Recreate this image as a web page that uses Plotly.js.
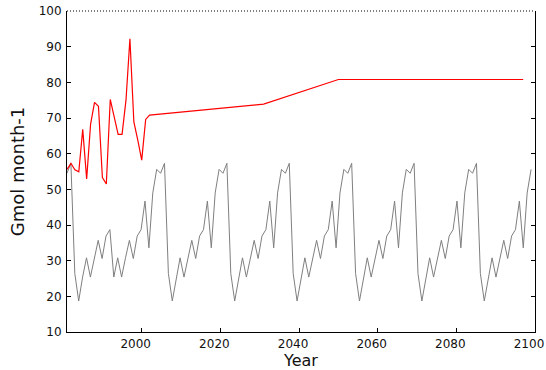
<!DOCTYPE html>
<html>
<head>
<meta charset="utf-8">
<script src="https://cdn.plot.ly/plotly-3.0.1.min.js"></script>
<style>
  html, body { margin: 0; padding: 0; background: #fff; }
  #chart { width: 546px; height: 370px; }
</style>
</head>
<body>
<div id="chart"></div>
<script>
// Red series: observed-period values, then a few sparse projection points
const redYears = [1981, 1982, 1983, 1984, 1985, 1986, 1987, 1988, 1989, 1990, 1991,
                  1992, 1993, 1994, 1995, 1996, 1997, 1998, 1999, 2000, 2001, 2002,
                  2031, 2050, 2097];
const redValues = [55.6, 57.3, 55.5, 54.9, 66.8, 52.9, 68.3, 74.4, 73.3, 53.3, 51.5,
                   75.2, 70.3, 65.4, 65.4, 75.0, 92.2, 68.9, 63.8, 58.2, 69.6, 70.8,
                   73.9, 80.8, 80.8];

// Gray series: evenly spaced samples between grayStart and grayEnd
const grayStart = 1981;
const grayEnd = 2099;
const grayValues = [
  54.5, 57.3, 26.4, 18.7, 25.4, 30.8, 25.4, 30.8, 35.7, 30.6, 36.9, 38.7,
  25.4, 30.8, 25.4, 30.8, 35.7, 30.6, 36.9, 38.7, 46.7, 33.6, 49.0, 55.6, 54.5, 57.3,
  26.4, 18.7, 25.4, 30.8, 25.4, 30.8, 35.7, 30.6, 36.9, 38.7, 46.7, 33.6, 49.0, 55.6, 54.5, 57.3,
  26.4, 18.7, 25.4, 30.8, 25.4, 30.8, 35.7, 30.6, 36.9, 38.7, 46.7, 33.6, 49.0, 55.6, 54.5, 57.3,
  26.4, 18.7, 25.4, 30.8, 25.4, 30.8, 35.7, 30.6, 36.9, 38.7, 46.7, 33.6, 49.0, 55.6, 54.5, 57.3,
  26.4, 18.7, 25.4, 30.8, 25.4, 30.8, 35.7, 30.6, 36.9, 38.7, 46.7, 33.6, 49.0, 55.6, 54.5, 57.3,
  26.4, 18.7, 25.4, 30.8, 25.4, 30.8, 35.7, 30.6, 36.9, 38.7, 46.7, 33.6, 49.0, 55.6, 54.5, 57.3,
  26.4, 18.7, 25.4, 30.8, 25.4, 30.8, 35.7, 30.6, 36.9, 38.7, 46.7, 33.6, 49.0, 55.6
];
const grayTimes = grayValues.map((_, i) =>
  grayStart + i * (grayEnd - grayStart) / (grayValues.length - 1));

const xTicks = [2000, 2020, 2040, 2060, 2080, 2100];
const yTicks = [10, 20, 30, 40, 50, 60, 70, 80, 90, 100];

const FONT = 'DejaVu Sans, sans-serif';

const traces = [
  {
    x: grayTimes, y: grayValues, type: 'scatter', mode: 'lines',
    line: { color: '#7f7f7f', width: 1 }, hoverinfo: 'skip'
  },
  {
    x: redYears, y: redValues, type: 'scatter', mode: 'lines',
    line: { color: '#ff0000', width: 1.2 }, hoverinfo: 'skip'
  }
];

const layout = {
  width: 546, height: 370,
  margin: { l: 67, r: 11, t: 11, b: 38 },
  paper_bgcolor: '#fff', plot_bgcolor: '#fff',
  showlegend: false,
  font: { family: FONT, color: '#111' },
  xaxis: {
    range: [1981, 2100], tickvals: xTicks, ticktext: xTicks.map(String),
    ticks: 'inside', ticklen: 4, tickcolor: '#000', tickwidth: 1,
    showline: true, linecolor: '#000', linewidth: 1, mirror: false,
    showgrid: false, zeroline: false,
    tickfont: { family: FONT, size: 12, color: '#111' },
    ticklabelshift: -6, ticklabelstandoff: 1,
    title: { text: 'Year', font: { family: FONT, size: 16, color: '#111' }, standoff: 3 }
  },
  yaxis: {
    range: [10, 100], tickvals: yTicks,
    ticks: 'inside', ticklen: 4, tickcolor: '#000', tickwidth: 1,
    showline: true, linecolor: '#000', linewidth: 1, mirror: 'ticks',
    showgrid: false, zeroline: false,
    tickfont: { family: FONT, size: 12, color: '#111' },
    ticklabelstandoff: 2,
    title: { text: 'Gmol month-1', font: { family: FONT, size: 18, color: '#111' }, standoff: 9 }
  },
  shapes: [
    { type: 'line', xref: 'paper', yref: 'paper', x0: 0, x1: 1, y0: 1, y1: 1,
      line: { color: '#000', width: 1, dash: '1px,2px' } }
  ]
};

Plotly.newPlot('chart', traces, layout, { staticPlot: true, displayModeBar: false });
</script>
</body>
</html>
